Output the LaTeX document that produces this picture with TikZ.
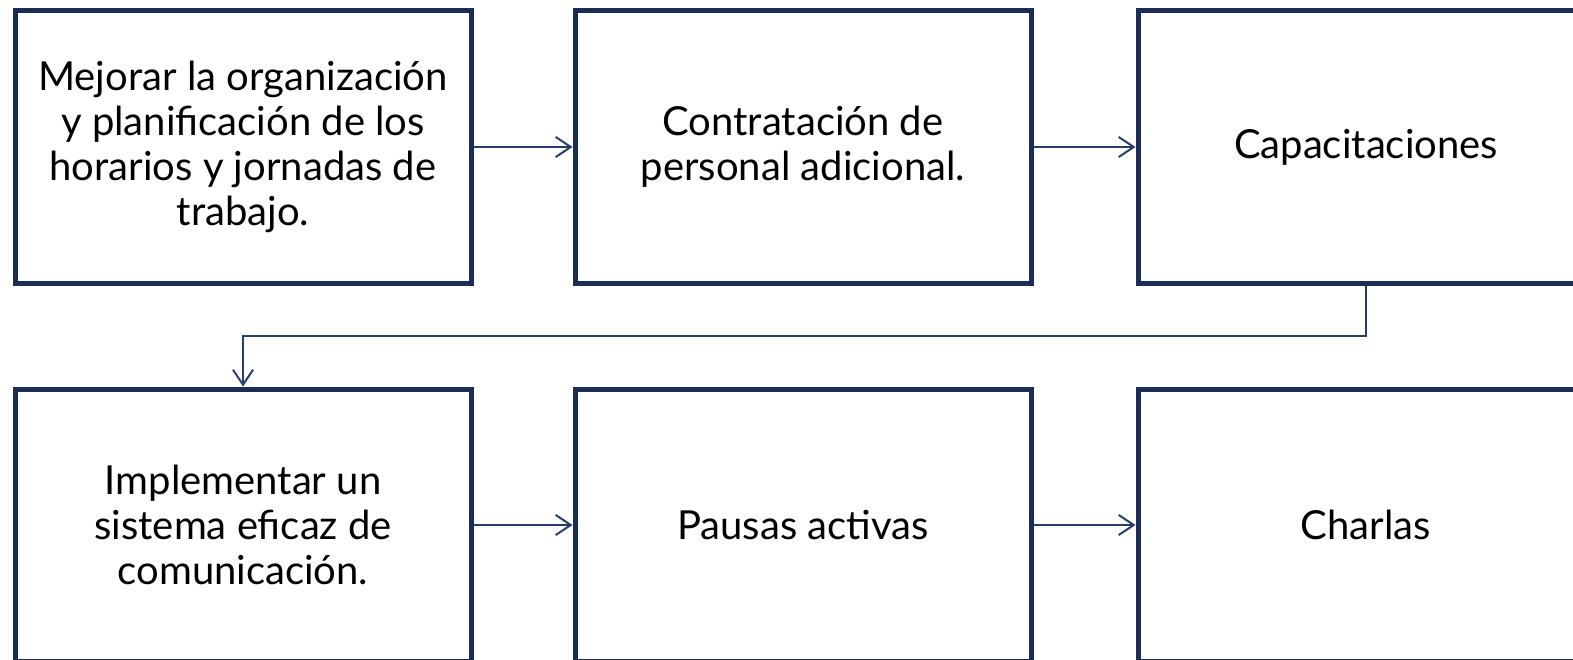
\documentclass[tikz,border=0pt]{standalone}
\usepackage{fontspec}
\setmainfont{Lato}
\usetikzlibrary{arrows.meta}
\definecolor{boxnavy}{HTML}{1B2C55}
\definecolor{linknavy}{HTML}{263E6E}
\begin{document}
\begin{tikzpicture}[x=1pt,y=-1pt,
  stepbox/.style={draw=boxnavy, line width=5pt, minimum width=456pt, minimum height=272pt,
    inner sep=0pt, align=center, font=\fontsize{40}{45}\selectfont},
  link/.style={draw=linknavy, line width=2pt, -{Straight Barb[length=15pt,width=20pt,line width=2pt]}}]
\useasboundingbox (0,0) rectangle (1573,660);
\node[stepbox] (b1) at (243,147) {Mejorar la organización\\y planificación de los\\horarios y jornadas de\\trabajo.};
\node[stepbox] (b2) at (803,147) {Contratación de\\personal adicional.};
\node[stepbox] (b3) at (1366,147) {Capacitaciones};
\node[stepbox] (b4) at (243,525) {Implementar un\\sistema eficaz de\\comunicación.};
\node[stepbox] (b5) at (803,525) {Pausas activas};
\node[stepbox] (b6) at (1366,525) {Charlas};
\draw[link] (b1) -- (b2);
\draw[link] (b2) -- (b3);
\coordinate (turn) at (1366,336);
\draw[link] (b3.south) -- (turn) -| (b4.north);
\draw[link] (b4) -- (b5);
\draw[link] (b5) -- (b6);
\end{tikzpicture}
\end{document}
